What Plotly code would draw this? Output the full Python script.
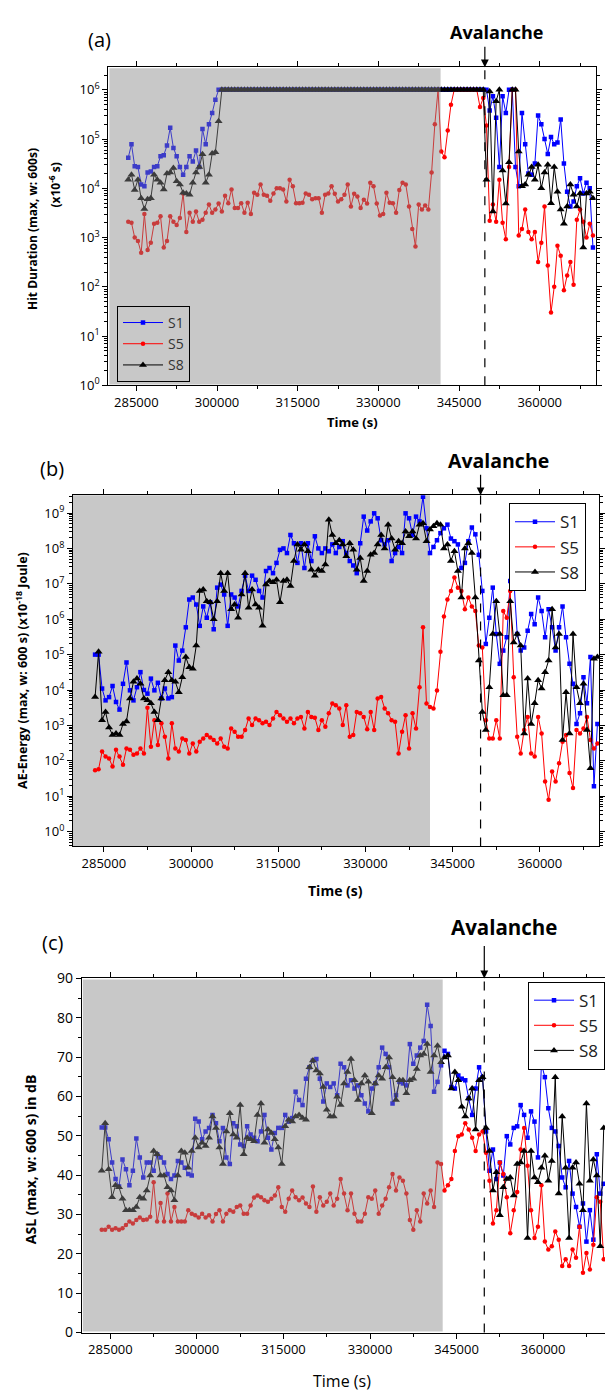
import plotly.graph_objects as go

# ---------------- data ----------------
T0 = 283500      # time of first 600 s window (s)
DT = 600         # window step (s)

SERIES = ["S1", "S5", "S8"]

# (a) Hit duration, max over 600 s window (x1e-6 s)
HD_S1 = [
    4.2e4, 7.9e4, 2.8e4, 2.7e4, 1.2e4, 1.1e4, 2.1e4, 2.2e4, 2.7e4, 2.8e4,
    4.5e4, 4.7e4, 7.4e4, 1.7e5, 6.6e4, 4.5e4, 2.7e4, 1.9e4, 2.7e4, 4.5e4,
    3.5e4, 5.9e4, 2.7e4, 1.6e5, 7.9e4, 2.0e5, 3.4e5, 6.3e5, 1e6,
    1e6, 1e6, 1e6, 1e6, 1e6, 1e6, 1e6, 1e6, 1e6, 1e6,
    1e6, 1e6, 1e6, 1e6, 1e6, 1e6, 1e6, 1e6, 1e6, 1e6,
    1e6, 1e6, 1e6, 1e6, 1e6, 1e6, 1e6, 1e6, 1e6, 1e6,
    1e6, 1e6, 1e6, 1e6, 1e6, 1e6, 1e6, 1e6, 1e6, 1e6,
    1e6, 1e6, 1e6, 1e6, 1e6, 1e6, 1e6, 1e6, 1e6, 1e6,
    1e6, 1e6, 1e6, 1e6, 1e6, 1e6, 1e6, 1e6, 1e6, 1e6,
    1e6, 1e6, 1e6, 1e6, 1e6, 1e6, 1e6, 1e6, 1e6, 1e6,
    1e6, 1e6, 1e6, 1e6, 1e6, 1e6, 1e6, 1e6, 1e6, 1e6,
    1e6, 1e6,
    1.0e6, 3.8e5, 7.4e5, 2.7e5, 2.7e4, 7.4e5, 3.4e5, 1.0e6, 1.0e6, 2.7e4,
    1.1e4, 3.4e5, 7.9e4, 2.0e4, 1.9e4, 3.2e4, 3.0e5, 2.0e5, 1.0e5, 5.0e4,
    1.1e5, 7.9e4, 8.5e4, 2.5e5, 3.2e4, 8.5e3, 4.3e3, 5.4e3, 1.1e4, 1.6e4,
    7.9e3, 1.3e4, 1.0e4, 6.3e2,
]
HD_S5 = [
    2.1e3, 2.0e3, 1.0e3, 8.5e2, 4.9e2, 3.0e3, 5.6e2, 7.9e2, 1.9e3, 2.0e3,
    2.7e3, 6.3e2, 8.5e2, 2.7e3, 2.1e3, 1.8e3, 2.5e3, 7.9e3, 1.3e3, 3.2e3,
    2.1e3, 3.4e3, 2.1e3, 2.3e3, 3.2e3, 4.7e3, 3.2e3, 3.7e3, 4.9e3, 3.4e3,
    7.1e3, 5.0e3, 9.5e3, 4.0e3, 4.0e3, 5.0e3, 3.2e3, 5.1e3, 3.0e3, 8.1e3,
    7.4e3, 1.2e4, 7.4e3, 7.1e3, 5.6e3, 7.9e3, 1.0e4, 1.0e4, 9.5e3, 5.4e3,
    1.5e4, 1.1e4, 5.0e3, 5.0e3, 5.1e3, 7.9e3, 7.4e3, 6.0e3, 6.3e3, 6.3e3,
    3.2e3, 7.4e3, 7.9e3,
    1.1e4, 7.8e3, 5.4e3, 6.0e3, 7.4e3, 1.2e4, 4.3e3, 7.8e3, 6.8e3, 4.0e3,
    5.9e3, 4.9e3, 1.3e4, 1.1e4, 4.9e3, 2.8e3, 3.0e3, 8.1e3, 5.1e3, 5.0e3,
    3.2e3, 9.3e3, 1.3e4, 1.2e4, 4.3e3, 1.5e3, 6.6e2, 4.7e3, 3.7e3, 4.5e3,
    3.7e3, 2.1e4, 2.0e5, 1.0e6, 5.6e4, 4.3e4, 1.5e5, 5.0e5, 1.0e6,
    1e6, 1e6, 1e6, 1e6, 1e6, 1e6, 1e6,
    4.5e5, 6.8e5, 1.9e5, 2.2e3, 4.7e3, 2.1e3, 1.5e4, 2.0e3, 9.3e2, 2.7e4,
    1.0e6, 1.0e6, 1.1e3, 1.5e3, 3.7e3, 1.3e3, 9.3e2, 1.3e3, 3.2e2, 7.9e2,
    4.3e3, 2.7e2, 3.0e1, 1.0e2, 6.8e2, 4.3e2, 8.5e1, 1.7e2, 3.2e2, 1.1e2,
    2.3e3, 3.7e3, 2.1e3, 1.0e3, 1.9e3, 1.1e3,
]
HD_S8 = [
    1.5e4, 1.9e4, 9.3e3, 1.5e4, 6.3e3, 3.8e3, 6.0e3, 6.3e3, 1.9e4, 1.5e4,
    1.3e4, 9.5e3, 2.0e4, 2.1e4, 2.6e4, 1.4e4, 1.2e4, 8.1e3, 7.9e3, 7.4e3,
    1.3e4, 2.1e4, 2.7e4, 4.9e4, 1.3e4, 1.9e4, 5.1e4, 5.4e4, 2.3e5, 1.0e6,
    1e6, 1e6, 1e6, 1e6, 1e6, 1e6, 1e6, 1e6, 1e6, 1e6,
    1e6, 1e6, 1e6, 1e6, 1e6, 1e6, 1e6, 1e6, 1e6, 1e6,
    1e6, 1e6, 1e6, 1e6, 1e6, 1e6, 1e6, 1e6, 1e6, 1e6,
    1e6, 1e6, 1e6, 1e6, 1e6, 1e6, 1e6, 1e6, 1e6, 1e6,
    1e6, 1e6, 1e6, 1e6, 1e6, 1e6, 1e6, 1e6, 1e6, 1e6,
    1e6, 1e6, 1e6, 1e6, 1e6, 1e6, 1e6, 1e6, 1e6, 1e6,
    1e6, 1e6, 1e6, 1e6, 1e6, 1e6, 1e6, 1e6, 1e6, 1e6,
    1e6, 1e6, 1e6, 1e6, 1e6, 1e6, 1e6, 1e6, 1e6, 1e6,
    1e6,
    1.5e4, 9.3e5, 3.4e3, 5.9e5, 1.0e6, 2.3e4, 4.9e3, 3.4e4, 1.0e6, 1.0e6,
    5.6e4, 1.1e4, 1.2e4, 1.9e4, 2.7e4, 1.5e4, 3.0e4, 1.0e4, 2.1e4, 3.0e4,
    5.0e3, 2.7e4, 8.5e3, 3.7e3, 1.9e3, 4.3e3, 1.2e4, 7.4e3, 4.3e3, 7.9e3,
    6.3e2, 7.9e3, 8.5e3, 6.3e3,
]

# (b) AE energy, max over 600 s window (x1e-18 J)
AE_S1 = [
    1.0e5, 1.0e5, 1.1e4, 5.1e3, 6.3e3, 1.3e4, 4.6e3, 2.8e3, 1.5e4, 6.0e4,
    9.8e3, 5.1e3, 1.2e4, 3.2e4, 1.0e4, 7.9e3, 2.1e4, 9.8e3, 1.6e4, 5.8e3,
    1.1e4, 5.8e3, 6.3e3, 1.8e5, 6.8e4, 1.3e5, 5.9e5, 3.6e6, 4.1e6, 2.6e6,
    6.5e5, 2.3e6, 1.1e6, 3.0e6, 5.2e5, 7.8e6, 9.5e6, 5.0e6, 6.5e5, 5.0e6,
    4.1e6, 2.3e6, 6.3e6, 1.7e7, 6.3e6, 1.7e7, 1.3e7, 6.3e6, 4.1e6, 2.3e7,
    2.8e7, 2.0e7, 3.9e7, 9.1e7, 1.0e8, 7.4e7, 2.4e8, 1.4e8, 3.9e7, 1.4e8,
    2.8e7, 1.4e8, 4.4e7, 2.2e8, 1.0e8, 7.4e7, 1.0e8,
    8.3e7, 1.3e8, 7.4e7, 1.1e8, 1.6e8, 7.4e7, 4.4e7, 3.3e7, 2.0e7, 1.4e8,
    7.9e8, 3.2e8, 5.8e8, 9.8e8, 7.1e8, 1.7e8, 1.3e8, 1.7e8, 4.4e7, 7.4e7,
    1.1e8, 7.4e7, 9.8e8, 7.1e8, 2.4e8, 7.9e8, 5.8e8, 2.9e9, 3.7e8, 7.4e7,
    1.1e8, 1.7e8, 2.7e8, 3.7e8, 4.7e8, 1.9e8, 1.6e8, 1.3e8, 2.8e7, 3.9e7,
    1.6e8, 3.9e8, 2.5e8, 6.6e7, 6.3e6, 2.0e5, 1.1e6, 7.8e6, 3.8e5, 5.5e4,
    1.3e5, 3.1e5, 1.2e7, 1.5e7, 3.8e5, 1.3e5, 1.6e5, 4.7e5, 1.4e6, 7.2e5,
    4.1e6, 1.7e6, 3.1e5, 1.9e6, 5.9e5, 1.3e5, 5.9e5, 2.3e6, 3.1e5, 5.5e4,
    1.5e4, 1.1e3, 2.2e3, 2.3e4, 4.2e3, 8.5e4, 1.9e1, 1.1e3,
]
AE_S5 = [
    54, 58, 182, 132, 117, 69, 204, 132, 78, 224,
    204, 148, 162, 224, 162, 3160, 251, 1410, 282, 1150,
    479, 117, 1150, 224, 182, 427, 389, 162, 309, 182,
    347, 427, 537, 457, 389, 309, 427, 251, 224, 813,
    661, 479, 479, 741, 1580, 1020, 1580, 1410, 1150, 1260,
    1020, 1580, 2400, 1950, 1580, 1260, 1580, 1150, 1580, 1740,
    813, 2400, 1740, 1660, 741, 1410, 912, 2190, 4170, 3720,
    3020,
    1020, 3720, 479, 537, 2400, 2190, 1740, 776, 2400, 741,
    5750, 6310, 3020, 2190, 1410, 1260, 162, 661, 1950, 224,
    2190, 813, 1.2e4, 5.9e5, 4170, 3310, 3020, 9770, 1.2e5, 1.2e6,
    3.6e6, 6.3e6, 1.5e7, 7.8e6, 6.3e6, 1.9e6, 4.1e6, 2.3e6, 1.7e6, 1.8e5,
    1.6e5, 1410, 427, 427, 1410, 427, 1.7e6, 1.1e6, 6.3e6, 2.3e4,
    479, 162, 741, 1740, 162, 132, 1740, 589, 26, 7.9,
    50, 26, 85, 347, 537, 45, 17, 741, 589, 813,
    1740, 389, 224, 309,
]
AE_S8 = [
    6.3e3, 1.2e5, 1.4e3, 2.4e3, 8.7e2, 5.4e2, 5.9e2, 5.4e2, 1.1e3, 1.3e3,
    5.8e3, 1.7e4, 2.1e4, 1.5e4, 5.8e3, 5.1e3, 4.2e3, 2.4e3, 1.4e3, 5.8e3,
    1.9e4, 3.2e4, 1.9e4, 1.7e4, 8.7e3, 2.3e4, 8.5e4, 4.4e4, 4.0e4, 1.8e5,
    6.3e6, 6.9e6, 3.2e6, 3.0e6, 1.0e6, 3.2e6, 2.0e7, 6.3e6, 2.0e7, 1.9e6,
    2.6e6, 1.1e6, 5.0e6, 2.0e7, 2.1e6, 6.9e6, 2.6e6, 2.1e6, 6.5e5, 9.5e6,
    1.2e7, 1.1e7, 1.3e7, 3.0e6, 1.2e7, 1.3e7, 8.7e6, 4.4e7, 1.3e8, 9.1e7,
    1.3e8, 8.3e7, 2.5e7, 1.7e7, 2.5e7, 2.3e7, 3.5e7,
    6.5e8, 2.4e8, 1.4e8, 1.7e8, 1.3e8, 6.0e7, 1.4e8, 9.1e7, 2.5e7, 5.4e7,
    1.2e7, 2.3e7, 6.6e7, 7.4e7, 1.3e8, 2.4e8, 1.0e8, 4.7e8, 1.9e8, 9.1e7,
    1.6e8, 1.4e8, 3.0e8, 2.2e8, 3.0e8, 1.9e8, 4.7e8, 5.1e8, 1.6e8, 3.4e8,
    4.2e8, 5.1e8, 4.7e8, 1.0e8, 1.3e8, 4.4e7, 8.3e7, 2.3e7, 4.1e6, 1.0e8,
    1.4e8, 7.4e7, 4.1e6, 6.8e4,
    2.4e3, 7.4e2, 1.2e4, 3.8e5, 3.2e6, 3.8e5, 7.1e3, 7.1e3, 3.2e6, 2.2e5,
    3.8e5, 1.8e5, 5.9e2, 2.1e4, 1.1e3, 4.2e3, 1.9e4, 1.1e4, 3.2e4, 6.8e4,
    1.9e6, 1.6e5, 3.8e5, 3.9e2, 8.7e3, 5.9e2, 3.8e5, 1.2e4, 4.2e3, 1.5e4,
    7.4e2, 6.2e1, 7.6e4, 8.5e4,
]

# (c) ASL, max over 600 s window (dB)
ASL_S1 = [
    52.1, 52.1, 49.1, 43.2, 39.0, 37.1, 44.0, 41.5, 37.4, 41.1,
    49.3, 44.5, 39.4, 43.2, 43.2, 41.1, 45.3, 44.5, 43.2, 40.3,
    39.0, 39.9, 43.6, 43.2, 41.9, 40.3, 39.9, 54.3, 53.6, 49.1,
    51.1, 52.0, 55.3, 53.2, 48.6, 52.0, 44.5, 42.8, 53.2, 52.4,
    47.8, 47.4, 52.4, 50.3, 49.5, 48.6, 51.1, 55.3, 49.5, 46.5,
    50.7, 52.0, 52.0, 55.3, 53.6, 54.5, 61.2, 59.1, 57.8, 64.5,
    67.4, 69.1, 69.5, 64.5, 58.7, 63.3, 62.4, 63.3, 60.3, 68.3,
    67.4, 62.8,
    64.1, 62.0, 62.8, 60.3, 58.2, 56.2, 62.0, 63.3, 67.4, 72.4,
    70.8, 67.4, 58.2, 60.3, 63.7, 63.3, 62.8, 73.3, 68.3, 70.4,
    72.4, 74.1, 83.3, 77.9, 61.2, 63.7, 67.9, 71.6, 70.8, 62.4,
    62.0, 65.3, 64.5, 64.1, 59.5, 55.3, 62.0, 67.4, 64.9,
    51.1, 41.1, 46.5, 39.0, 43.2, 39.9, 49.9, 47.8, 52.0, 52.4,
    57.8, 55.3, 49.5, 56.2, 53.6, 44.5, 68.3, 64.9, 57.0, 52.0,
    51.1, 47.4, 39.4, 36.9, 43.6, 35.3, 31.9, 26.9, 32.8, 23.1,
    31.1, 23.6, 45.3, 35.3, 37.8,
]
ASL_S5 = [
    26.1, 26.1, 26.9, 26.1, 26.5, 26.1, 26.5, 27.3, 28.2, 27.7,
    28.6, 29.2, 28.6, 28.7, 29.4, 38.2, 28.2, 32.9, 28.2, 35.3,
    28.2, 31.9, 28.2, 28.2, 28.2, 31.1, 30.2, 29.8, 29.2, 30.2,
    29.2, 29.8, 28.2, 30.1, 31.1, 28.2, 30.2, 31.1, 30.7, 31.9,
    32.3, 30.2, 30.2, 32.3, 34.3, 34.8, 34.4, 33.6, 33.2, 34.0,
    34.8, 36.9, 31.9, 30.7, 34.0, 36.1, 34.4, 33.6, 34.3, 32.8,
    31.9, 37.1, 30.7, 34.4, 32.3, 33.2, 35.3, 32.3, 34.0, 39.0,
    35.3, 31.1,
    35.3, 30.2, 28.2, 28.2, 30.2, 34.4, 34.0, 36.1, 30.2, 32.3,
    34.0, 36.9, 40.3, 36.1, 39.4, 38.6, 35.3, 28.6, 26.1, 31.1,
    28.2, 35.3, 32.8, 36.1, 31.9, 43.2, 42.8, 36.1, 37.4, 39.0,
    46.1, 49.9, 50.3, 53.2, 51.6, 49.5, 46.1, 50.3, 51.1,
    45.7, 38.6, 27.7, 31.1, 43.2, 40.3, 34.4, 25.2, 31.1, 35.7,
    46.5, 52.0, 42.4, 31.1, 24.0, 26.9, 37.4, 23.1, 21.1, 21.9,
    25.7, 23.6, 16.9, 18.6, 16.9, 21.1, 19.0, 26.9, 15.2, 20.2,
    16.0, 22.3, 34.4, 33.2, 18.6,
]
ASL_S8 = [
    41.1, 53.2, 41.5, 34.4, 37.4, 36.9, 34.0, 31.1, 31.1, 31.1,
    31.9, 34.4, 34.0, 36.1, 39.9, 46.1, 45.3, 39.9, 39.9, 36.9,
    36.1, 33.6, 39.9, 46.1, 45.7, 41.9, 46.1, 49.5, 47.0, 48.2,
    47.4, 49.5, 54.9, 52.0, 47.0, 42.8, 51.1, 55.7, 50.3, 49.5,
    57.8, 45.3, 49.5, 49.1, 48.6, 55.3, 58.2, 48.2, 51.6, 50.7,
    49.1, 47.0, 42.8, 52.4, 54.1, 53.6, 54.9, 55.3, 54.5, 54.1,
    67.4, 69.1, 66.6, 65.8, 62.4, 56.6, 54.9, 54.9, 59.9, 57.8,
    63.3, 66.2,
    69.5, 64.1, 59.1, 63.3, 65.3, 63.7, 55.7, 63.3, 65.3, 64.5,
    67.4, 69.9, 64.9, 59.1, 64.1, 64.1, 60.8, 64.1, 64.5, 67.0,
    70.4, 70.8, 73.3, 66.2, 70.4, 72.9, 68.7, 69.9, 70.4, 62.0,
    66.2, 64.1, 57.4, 54.9, 59.5, 62.0, 51.6, 64.1, 64.9,
    52.0, 46.1, 36.1, 40.7, 29.8, 36.9, 39.0, 39.4, 34.8, 42.8,
    43.2, 46.1, 24.0, 46.1, 39.4, 38.2, 41.9, 44.9, 38.6, 43.6,
    64.9, 35.3, 54.9, 41.9, 24.0, 41.9, 43.2, 37.8, 31.1, 58.2,
    38.6, 44.0, 39.9, 21.9, 52.0,
]

X_TICKS = [285000, 300000, 315000, 330000, 345000, 360000]
X_TICK_TEXT = ["285000", "300000", "315000", "330000", "345000", "360000"]
HD_TICKS = [1, 10, 100, 1e3, 1e4, 1e5, 1e6]
HD_TICK_TEXT = ["10<sup>0</sup>", "10<sup>1</sup>", "10<sup>2</sup>", "10<sup>3</sup>",
                "10<sup>4</sup>", "10<sup>5</sup>", "10<sup>6</sup>"]
AE_TICKS = [1, 10, 100, 1e3, 1e4, 1e5, 1e6, 1e7, 1e8, 1e9]
AE_TICK_TEXT = ["10<sup>0</sup>", "10<sup>1</sup>", "10<sup>2</sup>", "10<sup>3</sup>",
                "10<sup>4</sup>", "10<sup>5</sup>", "10<sup>6</sup>", "10<sup>7</sup>",
                "10<sup>8</sup>", "10<sup>9</sup>"]
ASL_TICKS = [0, 10, 20, 30, 40, 50, 60, 70, 80, 90]

AVALANCHE_T = 349800
GRAY_END = {"a": 341570, "b": 341100, "c": 342590}

# ---------------- layout geometry (pixels) ----------------
W, H = 605, 1400
FONT = "Open Sans"
PANELS = {
    "a": dict(ax="", px=(108.3, 595.7), py=(58, 380.5), xr=(279790, 370410)),
    "b": dict(ax="2", px=(73, 599.3), py=(492, 848), xr=(279700, 370220)),
    "c": dict(ax="3", px=(81.7, 605), py=(981.7, 1340.7), xr=(280030, 370720)),
}


def xd(p):
    return [p[0] / W, min(p[1] / W, 1.0)]


def yd(p):
    return [1 - p[1] / H, 1 - p[0] / H]


STYLE = {
    "S1": dict(color="#0000ff", symbol="square", size=4.5),
    "S5": dict(color="#ff0000", symbol="circle", size=4.5),
    "S8": dict(color="#000000", symbol="triangle-up", size=7),
}

fig = go.Figure()

panel_data = {
    "a": [HD_S1, HD_S5, HD_S8],
    "b": [AE_S1, AE_S5, AE_S8],
    "c": [ASL_S1, ASL_S5, ASL_S8],
}
legend_name = {"a": "legend", "b": "legend2", "c": "legend3"}

for key, series_vals in panel_data.items():
    ax = PANELS[key]["ax"]
    for name, vals in zip(SERIES, series_vals):
        st = STYLE[name]
        fig.add_trace(go.Scatter(
            x=[T0 + DT * i for i in range(len(vals))],
            y=vals,
            mode="lines+markers",
            name=name,
            legend=legend_name[key],
            xaxis="x" + ax, yaxis="y" + ax,
            line=dict(color=st["color"], width=1),
            marker=dict(color=st["color"], symbol=st["symbol"], size=st["size"],
                        line=dict(width=0)),
            cliponaxis=True,
        ))

axis_common = dict(showline=True, linecolor="black", linewidth=1, ticks="outside",
                   ticklen=5, tickcolor="black", tickwidth=1, showgrid=False,
                   zeroline=False, mirror="ticks",
                   tickfont=dict(family=FONT, size=13, color="black"))

layout_axes = {}
for key, p in PANELS.items():
    ax = p["ax"]
    layout_axes["xaxis" + ax] = dict(
        axis_common, domain=xd(p["px"]), range=list(p["xr"]),
        anchor="y" + ax, tickvals=X_TICKS, ticktext=X_TICK_TEXT,
        minor=dict(dtick=7500, tick0=277500, ticks="outside", ticklen=3,
                   tickcolor="black", showgrid=False),
    )

minor_hd = [m * 10 ** k for k in range(0, 7) for m in range(2, 10)]
minor_ae = [m * 10 ** k for k in range(-1, 10) for m in range(2, 10)]

layout_axes["yaxis"] = dict(
    axis_common, domain=yd(PANELS["a"]["py"]), anchor="x", type="log",
    range=[0, 6.46], tickvals=HD_TICKS, ticktext=HD_TICK_TEXT,
    minor=dict(tickvals=minor_hd, ticks="outside", ticklen=3, tickcolor="black"),
)
layout_axes["yaxis2"] = dict(
    axis_common, domain=yd(PANELS["b"]["py"]), anchor="x2", type="log",
    range=[-0.42, 9.5], tickvals=AE_TICKS, ticktext=AE_TICK_TEXT,
    minor=dict(tickvals=minor_ae, ticks="outside", ticklen=3, tickcolor="black"),
)
layout_axes["yaxis3"] = dict(
    axis_common, domain=yd(PANELS["c"]["py"]), anchor="x3",
    range=[0, 90], tickvals=ASL_TICKS,
    minor=dict(dtick=5, ticks="outside", ticklen=3, tickcolor="black"),
)
layout_axes["yaxis3"]["mirror"] = False
layout_axes["yaxis3"]["tickfont"] = dict(family=FONT, size=14, color="black")

# ---------------- shapes ----------------
shapes = []
# gray "before" zones: (a) and (c) drawn as translucent overlay, (b) underneath
shapes.append(dict(type="rect", xref="x", yref="y domain", x0=PANELS["a"]["xr"][0] + 200,
                   x1=GRAY_END["a"], y0=0.003, y1=0.997,
                   fillcolor="rgba(133,133,133,0.45)", line=dict(width=0), layer="above"))
shapes.append(dict(type="rect", xref="x2", yref="y2 domain", x0=PANELS["b"]["xr"][0],
                   x1=GRAY_END["b"], y0=0, y1=1,
                   fillcolor="rgb(200,200,200)", line=dict(width=0), layer="below"))
shapes.append(dict(type="rect", xref="x3", yref="y3 domain", x0=PANELS["c"]["xr"][0] + 200,
                   x1=GRAY_END["c"], y0=0.003, y1=0.997,
                   fillcolor="rgba(133,133,133,0.45)", line=dict(width=0), layer="above"))
for ax in ["", "2", "3"]:
    shapes.append(dict(type="line", xref="x" + ax, yref="y" + ax + " domain",
                       x0=AVALANCHE_T, x1=AVALANCHE_T, y0=0, y1=1,
                       line=dict(color="black", width=1.2, dash="dash"), layer="above"))

# ---------------- annotations ----------------
ann = []


def txt(x, y, text, size, bold=False, angle=0, color="black"):
    ann.append(dict(x=x / W, y=1 - y / H, xref="paper", yref="paper", text=text,
                    showarrow=False, textangle=angle, xanchor="center", yanchor="middle",
                    font=dict(family=FONT, size=size, color=color,
                              weight="bold" if bold else "normal")))


txt(99, 30, "(a)", 20)
txt(52, 465, "(b)", 20)
txt(52, 945, "(c)", 20)
txt(497, 22, "Avalanche", 18, bold=True)
txt(498, 457, "Avalanche", 19.5, bold=True)
txt(504, 930, "Avalanche", 20.5, bold=True)

for ax, dy in [("", -22), ("2", -22), ("3", -34)]:
    ann.append(dict(x=AVALANCHE_T, xref="x" + ax, y=1, yref="y" + ax + " domain",
                    ax=0, ay=dy, text="", showarrow=True, arrowhead=2, arrowsize=1.3,
                    arrowwidth=1.2, arrowcolor="black"))

txt(33, 222, "Hit Duration (max, w: 600s)", 12, bold=True, angle=-90)
txt(55, 178, "(x10<sup>-6</sup> s)", 12, bold=True, angle=-90)
txt(22, 670, "AE-Energy (max, w: 600 s) (x10<sup>-18</sup> Joule)", 12.5, bold=True, angle=-90)
txt(30, 1165, "ASL (max, w: 600 s) in dB", 14, bold=True, angle=-90)

txt(352, 418, "Time (s)", 13, bold=True)
txt(335, 893, "Time (s)", 14, bold=True)
txt(342, 1390, "Time (s)", 16)

legend_common = dict(bordercolor="black", borderwidth=1, xanchor="left", yanchor="top",
                     itemwidth=40, tracegroupgap=0, traceorder="normal")

fig.update_layout(
    width=W, height=H, autosize=False,
    margin=dict(l=0, r=0, t=0, b=0, pad=0),
    paper_bgcolor="white", plot_bgcolor="white",
    font=dict(family=FONT, color="black"),
    shapes=shapes, annotations=ann,
    legend=dict(legend_common, x=117 / W, y=1 - 300 / H, bgcolor="rgba(0,0,0,0)",
                font=dict(family=FONT, size=14, color="#333333")),
    legend2=dict(legend_common, x=509 / W, y=1 - 500 / H, bgcolor="white",
                 font=dict(family=FONT, size=17, color="#222222")),
    legend3=dict(legend_common, x=528 / W, y=1 - 985 / H, bgcolor="white",
                 font=dict(family=FONT, size=17, color="#222222")),
    **layout_axes,
)

fig.write_html("out.html",
               config={"displayModeBar": False},
               post_script="document.body.style.margin='0';"
                           "document.body.style.overflow='hidden';")
